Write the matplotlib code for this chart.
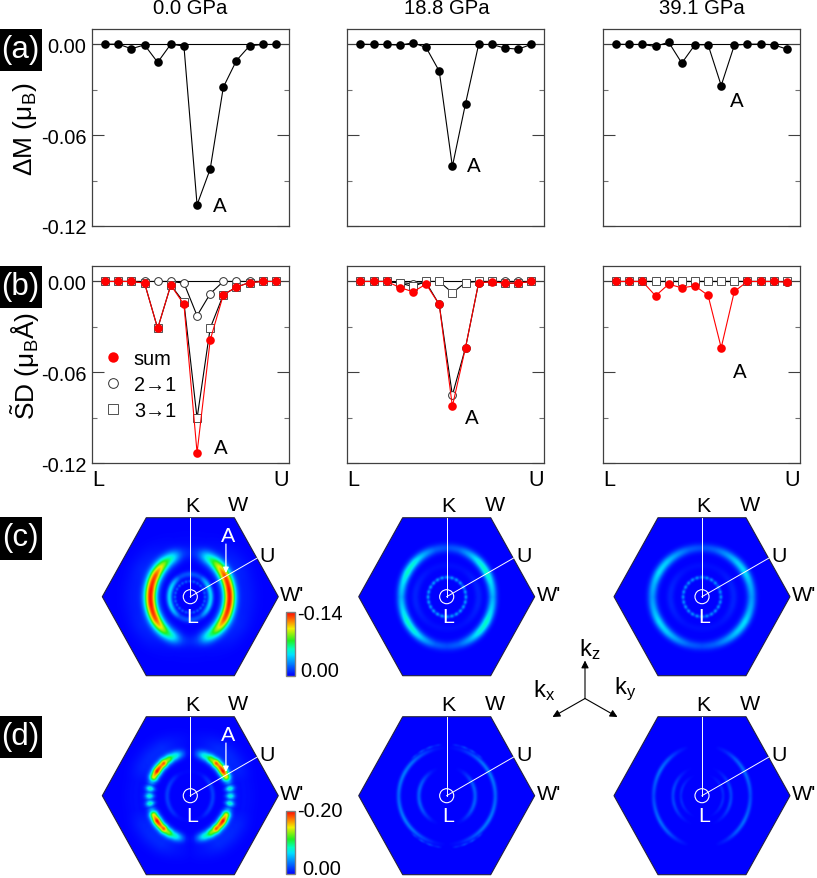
import numpy as np
import matplotlib
matplotlib.use("Agg")
import matplotlib.pyplot as plt
from matplotlib.colors import LinearSegmentedColormap
from matplotlib.lines import Line2D
from matplotlib.patches import Polygon, Circle, Rectangle

plt.rcParams['font.family'] = ['Liberation Sans', 'DejaVu Sans']
plt.rcParams['mathtext.fontset'] = 'custom'
plt.rcParams['mathtext.rm'] = 'Liberation Sans'
plt.rcParams['mathtext.it'] = 'Liberation Sans'
plt.rcParams['axes.unicode_minus'] = False

# ---------- data ----------
PRESSURES = ['0.0 GPa', '18.8 GPa', '39.1 GPa']
DM = [
    [0, 0, -.003, -.0005, -.012, 0, -.0013, -.106, -.0824, -.0284, -.0108, -.0011, -.0002, -.0002],
    [0, -.0002, -.0002, -.0007, .0009, -.0022, -.0178, -.0807, -.0393, -.0002, -.0002, -.0026, -.0033, -.0002],
    [0, -.0002, -.0002, -.0015, .0013, -.0125, -.0004, -.0004, -.0273, -.0007, 0, 0, -.0004, -.0033],
]
SD_SUM = [
    [0, 0, 0, -.0011, -.031, -.0024, -.0152, -.113, -.0387, -.0088, -.0037, -.0007, 0, 0],
    [0, 0, 0, -.004, -.0068, -.0018, -.0152, -.0824, -.0437, -.0009, -.0002, -.0011, -.0011, 0],
    [0, 0, 0, -.0095, -.0018, -.0042, -.0029, -.0092, -.0437, -.0066, 0, 0, 0, -.0004],
]
SD_21 = [
    [0, 0, 0, 0, 0, 0, -.0011, -.0226, -.0081, 0, 0, 0, 0, 0],
    [0, 0, 0, -.0007, -.0015, -.0007, -.0152, -.075, -.0437, -.0009, 0, 0, 0, 0],
    [0, 0, 0, 0, 0, 0, 0, 0, 0, 0, 0, 0, 0, -.0002],
]
SD_31 = [
    [0, 0, 0, -.001, -.031, -.0024, -.0138, -.0903, -.0308, -.0088, -.0037, -.0007, 0, 0],
    [0, 0, 0, -.0011, -.0033, 0, 0, -.0075, -.0007, 0, 0, -.0011, -.0011, 0],
    [0, 0, 0, 0, 0, 0, 0, 0, 0, 0, 0, 0, 0, 0],
]
A_A = [(8.75, -.1068), (8.65, -.0804), (9.2, -.0369)]
A_B = [(8.82, -.1099), (8.5, -.0901), (9.43, -.0591)]
YTICKS_MAJOR = [0, -.06, -.12]
YTICKS_MINOR = [-.03, -.09]
YLABELS = ['0.00', '-0.06', '-0.12']

# map intensities (fraction of colour-bar range) against the angle from the
# L-W' direction, 0 to 90 degrees, read along each ring
C1_OUTER = [.97, .97, .97, .95, .94, .92, .9, .84, .78, .7, .62, .52, .44, .36, .26, .16, .09, .06, .05]
C1_INNER = [.32, .32, .32, .3, .26, .2, .12, .12, .12, .13]
C1_DOTS = [.14, .05, .14, .05, .14, .05, .14, .05, .14, .05, .14, .05, .14]
C2_OUTER = [.25, .32, .42, .38, .25, .14, .11]
C2_INNER = [.05, .05, .04, .03, .02, .02, .02]
C2_DOTS = [.24, .1, .24, .1, .24, .1, .24, .1, .24, .1, .24, .1, .24]
C3_OUTER = [.22, .26, .33, .3, .22, .14, .11]
C3_INNER = [.05, .05, .04, .03, .02, .02, .02]
C3_DOTS = [.22, .09, .22, .09, .22, .09, .22, .09, .22, .09, .22, .09, .22]
D1_OUTER = [.42, .15, .45, .12, .28, .72, .82, .98, .92, .84, .9, .66, .6, .44, .38, .26, .13, .03, .01]
D1_INNER = [.09, .09, .08, .06, .02, .01, .01]
D1_HALO = [.02, .02, .05, .06, .06, .03, .01]
D2_OUTER = [.14, .16, .18, .16, .1, .03, .0]
D2_INNER = [.13, .14, .12, .07, .02, .0, .0]
D2_DOTS = [0, 0, 0, 0, 0, 0, 0, 0, 0, 0, .06, .02, .09, .03, .09, .03, .05, 0, 0]
D3_OUTER = [.1, .13, .16, .13, .05, .0, .0]
D3_INNER = [.09, .1, .08, .04, .01, .0, .0]
D3_MID = [.05, .06, .05, .03, .01, .0, .0]

# (intensity, radius along W', radius along K, width)
MAPS = [
    [[(C1_OUTER, .45, .50, .052), (C1_INNER, .235, .26, .024), (C1_DOTS, .17, .18, .012), ([.04, .04, .05, .04, .02, .01, .01], .62, .62, .10)],
     [(C2_OUTER, .52, .56, .036), (C2_INNER, .36, .36, .03), (C2_DOTS, .215, .225, .014)],
     [(C3_OUTER, .565, .56, .036), (C3_INNER, .36, .36, .03), (C3_DOTS, .215, .225, .014)]],
    [[(D1_OUTER, .46, .49, .036), (D1_INNER, .26, .28, .02), (D1_HALO, .62, .62, .09)],
     [(D2_OUTER, .55, .55, .018), (D2_INNER, .32, .33, .018), (D2_DOTS, .58, .59, .010)],
     [(D3_OUTER, .55, .58, .018), (D3_INNER, .33, .34, .016), (D3_MID, .24, .25, .014)]],
]
BAR_LABELS = ['-0.14', '-0.20']

# ---------- layout ----------
W, H = 817, 879
fig = plt.figure(figsize=(W / 100, H / 100), dpi=100)


def rect(l, t, r, b):
    return [l / W, 1 - b / H, (r - l) / W, (b - t) / H]


COL_LEFT = [92, 347.3, 603]
COL_W = 197
ROW_TB = [(30, 227), (267.3, 464.3)]
HEX_X = [190.3, 446.7, 702]
HEX_Y = [597.7, 796.7]
CSPINE = '#404040'
FS = 14.4


def frame(ax, first):
    ax.set_xlim(-1, 14)
    ax.set_ylim(-.12, .01)
    ax.axhline(0, color='black', lw=.8, zorder=1)
    ax.set_yticks(YTICKS_MAJOR)
    ax.set_yticks(YTICKS_MINOR, minor=True)
    ax.set_yticklabels(YLABELS if first else [], fontsize=FS)
    ax.tick_params(axis='y', which='major', direction='in', left=True, right=True,
                   length=8.6, width=.8, color=CSPINE, pad=4)
    ax.tick_params(axis='y', which='minor', direction='in', left=True, right=True,
                   length=3.8, width=.8, color='#707070')
    for s in ax.spines.values():
        s.set_linewidth(.9)
        s.set_color(CSPINE)


x = np.arange(14)
for i in range(3):
    ax = fig.add_axes(rect(COL_LEFT[i], ROW_TB[0][0], COL_LEFT[i] + COL_W, ROW_TB[0][1]))
    frame(ax, i == 0)
    ax.set_xticks([])
    ax.plot(x, DM[i], '-o', color='black', lw=.8, ms=6.2, mew=0, zorder=3, clip_on=False)
    ax.text(*A_A[i], 'A', fontsize=FS + .4, ha='center', va='center')

    ax = fig.add_axes(rect(COL_LEFT[i], ROW_TB[1][0], COL_LEFT[i] + COL_W, ROW_TB[1][1]))
    frame(ax, i == 0)
    ax.set_xticks([-1, 14])
    ax.set_xticklabels(['L', 'U'], fontsize=FS + 1.2)
    ax.tick_params(axis='x', length=0, pad=4)
    ax.get_xticklabels()[0].set_ha('left')
    ax.get_xticklabels()[1].set_ha('right')
    ax.plot(x, SD_21[i], '-o', color='black', mfc='white', mec='#303030', lw=.8, ms=5.6, mew=.7, zorder=3)
    ax.plot(x, SD_31[i], '-s', color='black', mfc='white', mec='#505050', lw=.8, ms=5.2, mew=.7, zorder=4)
    ax.plot(x, SD_SUM[i], '-o', color='red', lw=.8, ms=6.2, mew=0, zorder=5)
    ax.text(*A_B[i], 'A', fontsize=FS + .4, ha='center', va='center')
    if i == 0:
        handles = [
            Line2D([], [], ls='', marker='o', color='red', ms=7.5, mew=0),
            Line2D([], [], ls='', marker='o', mfc='white', mec='#303030', ms=7, mew=.7),
            Line2D([], [], ls='', marker='s', mfc='white', mec='#505050', ms=6.5, mew=.7),
        ]
        ax.legend(handles, ['sum', '2\u21921', '3\u21921'], loc='center left',
                  bbox_to_anchor=(.055, .40), frameon=False, fontsize=FS,
                  handlelength=1.0, handletextpad=.55, labelspacing=.34,
                  borderpad=0, borderaxespad=0)

cmap = LinearSegmentedColormap.from_list(
    'bz', [(0, '#0000ff'), (.33, '#00e0ff'), (.42, '#00ffc0'), (.55, '#20f020'),
           (.74, '#f0f000'), (.86, '#ff8000'), (1, '#ff0000')])

g = np.linspace(-1, 1, 500)
gy = np.linspace(-.9, .9, 450)
XX, YY = np.meshgrid(g, gy)


def field(rings):
    out = np.zeros_like(XX)
    for amps, rx, ry, w in rings:
        rr = np.hypot(XX / rx, YY / ry)
        th = np.degrees(np.arctan2(np.abs(YY) / ry, np.abs(XX) / rx))
        a = np.interp(th, np.linspace(0, 90, len(amps)), amps)
        out += a * np.exp(-((rr - 1) * .5 * (rx + ry)) ** 2 / (2 * w * w))
    return np.clip(out, 0, 1)


HEX = [(-1, 0), (-.5, .9), (.5, .9), (1, 0), (.5, -.9), (-.5, -.9)]
for r in range(2):
    for c in range(3):
        cx, cy = HEX_X[c], HEX_Y[r]
        ax = fig.add_axes(rect(cx - 88, cy - 79, cx + 88, cy + 79))
        ax.set_xlim(-1, 1)
        ax.set_ylim(-.9, .9)
        ax.axis('off')
        im = ax.imshow(field(MAPS[r][c]), extent=(-1, 1, -.9, .9), origin='lower',
                       cmap=cmap, vmin=0, vmax=1, aspect='auto', interpolation='bilinear')
        hexp = Polygon(HEX, closed=True, fc='none', ec='#202040', lw=.8, clip_on=False, zorder=3)
        ax.add_patch(hexp)
        im.set_clip_path(Polygon(HEX, closed=True, transform=ax.transData))
        ax.plot([0, 0], [0, .9], color='white', lw=.7, zorder=4)
        ax.plot([0, .76], [0, .44], color='white', lw=.7, zorder=4)
        ax.add_patch(Circle((0, 0), .08, fc='none', ec='white', lw=.8, zorder=4))
        tkw = dict(fontsize=FS + 1, ha='center', va='center', clip_on=False, zorder=5)
        ax.text(.02, 1.035, 'K', **tkw)
        ax.text(.545, 1.05, 'W', **tkw)
        ax.text(.875, .466, 'U', **tkw)
        ax.text(1.16, .03, "W'", **tkw)
        ax.text(.02, -.22, 'L', color='white', **tkw)
        if c == 0:
            ax.text(.43, .70, 'A', color='white', **tkw)
            ax.annotate('', xy=(.405, .27), xytext=(.405, .6),
                        arrowprops=dict(arrowstyle='-|>', color='white', lw=.9,
                                        mutation_scale=8, shrinkA=0, shrinkB=0), zorder=6)
            top, bot = (613, 676.7) if r == 0 else (811.7, 875)
            cax = fig.add_axes(rect(285.7, top, 294.7, bot))
            cb = fig.colorbar(im, cax=cax, ticks=[])
            cb.outline.set_edgecolor('#808080')
            cb.outline.set_linewidth(1)

# ---------- figure-level annotations ----------
ov = fig.add_axes([0, 0, 1, 1], zorder=10)
ov.set_xlim(0, W)
ov.set_ylim(H, 0)
ov.axis('off')
ov.patch.set_alpha(0)

for name, t, b in [('(a)', 30, 72), ('(b)', 267, 309), ('(c)', 518, 561), ('(d)', 717, 759)]:
    ov.add_patch(Rectangle((0, t), 42, b - t, fc='black', ec='none'))
    ov.text(20.5, (t + b) / 2 - 1, name, color='white', fontsize=22.5, ha='center', va='center')

for tx, name in zip(HEX_X, PRESSURES):
    ov.text(tx, 9, name, fontsize=FS + .2, ha='center', va='center')

ov.text(25, 129, '\u0394M (\u03bc$_{\\mathrm{B}}$)', rotation=90, fontsize=19, ha='center', va='center')
ov.text(25, 366, '$\\tilde{\\mathrm{S}}$D (\u03bc$_{\\mathrm{B}}$\u00c5)', rotation=90, fontsize=19, ha='center', va='center')

ov.text(297, 615, BAR_LABELS[0], fontsize=FS, ha='left', va='center')
ov.text(300, 672, '0.00', fontsize=FS, ha='left', va='center')
ov.text(297, 812, BAR_LABELS[1], fontsize=FS, ha='left', va='center')
ov.text(302, 870, '0.00', fontsize=FS, ha='left', va='center')

o = (585, 699.5)
for tip in [(585, 661.5), (552.5, 718), (617.5, 718)]:
    ov.annotate('', xy=tip, xytext=o,
                arrowprops=dict(arrowstyle='-|>', color='black', lw=.8,
                                mutation_scale=11, shrinkA=0, shrinkB=0))
ov.text(590, 650, 'k$_{\\mathrm{z}}$', fontsize=17, ha='center', va='center')
ov.text(544, 691, 'k$_{\\mathrm{x}}$', fontsize=17, ha='center', va='center')
ov.text(625, 689, 'k$_{\\mathrm{y}}$', fontsize=17, ha='center', va='center')

fig.savefig('out.png', dpi=100)
